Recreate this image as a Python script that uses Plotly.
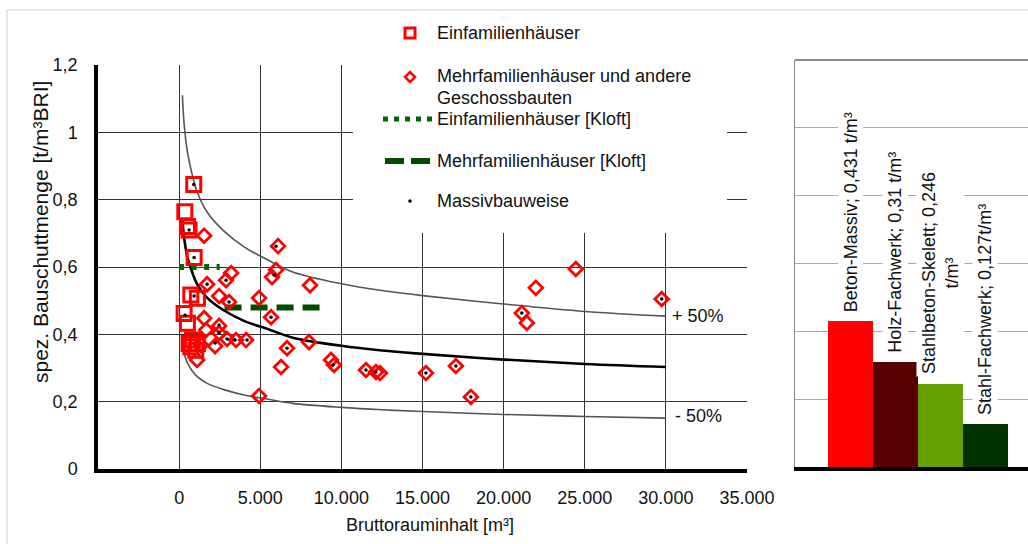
import plotly.graph_objects as go

W, H = 1028, 544

# ---------------- data ----------------
curve_x = [200, 300, 500, 800, 1100, 1700, 2800, 4000, 5500, 7000, 10000, 12500, 15000, 20000, 25000, 30000]
curve_mid = [0.745, 0.69, 0.632, 0.585, 0.55, 0.51, 0.47, 0.44, 0.415, 0.39, 0.366, 0.352, 0.342, 0.325, 0.312, 0.303]
curve_upper = [1.11, 1.03, 0.945, 0.875, 0.825, 0.765, 0.705, 0.66, 0.62, 0.585, 0.55, 0.53, 0.515, 0.49, 0.468, 0.454]
curve_lower = [0.372, 0.345, 0.316, 0.292, 0.275, 0.255, 0.235, 0.22, 0.207, 0.195, 0.183, 0.176, 0.171, 0.162, 0.156, 0.151]

ef_x = [900, 351, 616, 511, 924, 720, 1127, 308, 511, 819, 1127, 720, 1028, 616]
ef_y = [0.845, 0.764, 0.71, 0.72, 0.628, 0.517, 0.507, 0.462, 0.433, 0.383, 0.373, 0.363, 0.353, 0.373]

mf_x = [1540, 1724, 2463, 2894, 3202, 3079, 4926, 5727, 5973, 6097, 5665, 8067, 1540, 1663,
        2463, 2463, 2217, 2956, 3510, 4126, 1108, 4926, 6281, 6650, 8005, 9360, 9545, 11515,
        12131, 12378, 15210, 17057, 17981, 21122, 21430, 21984, 24447, 29743, 1355]
mf_y = [0.693, 0.549, 0.514, 0.561, 0.582, 0.496, 0.508, 0.570, 0.591, 0.662, 0.451, 0.546, 0.448, 0.413,
        0.425, 0.404, 0.365, 0.386, 0.383, 0.383, 0.324, 0.217, 0.303, 0.359, 0.377, 0.324, 0.309, 0.294,
        0.288, 0.285, 0.285, 0.306, 0.214, 0.463, 0.434, 0.538, 0.594, 0.505, 0.368]

massiv_x = [900, 616, 924, 924, 370, 1724, 2894, 3079, 5850, 5973, 5665, 2463, 2463, 2217, 2956,
            3448, 4187, 6650, 9483, 11515, 12131, 15210, 17057, 17981, 21122, 29743]
massiv_y = [0.845, 0.71, 0.628, 0.514, 0.457, 0.549, 0.561, 0.496, 0.576, 0.662, 0.451, 0.428, 0.404,
            0.374, 0.386, 0.383, 0.383, 0.359, 0.309, 0.294, 0.288, 0.285, 0.306, 0.214, 0.463, 0.505]

kloft_ef_x = [0, 2500]
kloft_ef_y = [0.6, 0.6]
kloft_mf_x = [2800, 8700]
kloft_mf_y = [0.48, 0.48]

x_tickvals = [0, 5000, 10000, 15000, 20000, 25000, 30000, 35000]
x_ticktext = ["0", "5.000", "10.000", "15.000", "20.000", "25.000", "30.000", "35.000"]
y_tickvals = [0, 0.2, 0.4, 0.6, 0.8, 1.0, 1.2]
y_ticktext = ["0", "0,2", "0,4", "0,6", "0,8", "1", "1,2"]

bar_cats = ["Beton-Massiv", "Holz-Fachwerk", "Stahlbeton-Skelett", "Stahl-Fachwerk"]
bar_vals = [0.431, 0.31, 0.246, 0.127]
bar_labels = ["Beton-Massiv; 0,431 t/m³", "Holz-Fachwerk; 0,31 t/m³",
              "Stahlbeton-Skelett; 0,246<br>t/m³", "Stahl-Fachwerk; 0,127t/m³"]
bar_colors = ["#ff0000", "#560000", "#66a000", "#003300"]

legend_labels = ["Einfamilienhäuser", "Mehrfamilienhäuser und andere", "Geschossbauten",
                 "Einfamilienhäuser [Kloft]", "Mehrfamilienhäuser [Kloft]", "Massivbauweise"]

# ---------------- layout helpers ----------------
FONT = "Liberation Sans, Arial, sans-serif"
TXT = "#111111"
RED = "#ff0000"
GREEN = "#006600"
DGREEN = "#004d00"

def px(x):
    return x / W

def py(y):
    return 1 - y / H

XL = [-5000, 35000]
YL = [0, 1.2]
X0, X1 = 98, 747
Y0, Y1 = 469, 65

def dx(p):  # pixel -> data x (left plot)
    return XL[0] + (p - X0) / (X1 - X0) * (XL[1] - XL[0])

def dy(p):  # pixel -> data y (left plot)
    return YL[0] + (Y0 - p) / (Y0 - Y1) * (YL[1] - YL[0])

fig = go.Figure()

# curves
fig.add_trace(go.Scatter(x=curve_x, y=curve_upper, mode="lines", line=dict(color="#555555", width=1.6, shape="spline"),
                         showlegend=False, xaxis="x", yaxis="y"))
fig.add_trace(go.Scatter(x=curve_x, y=curve_lower, mode="lines", line=dict(color="#555555", width=1.6, shape="spline"),
                         showlegend=False, xaxis="x", yaxis="y"))
fig.add_trace(go.Scatter(x=curve_x, y=curve_mid, mode="lines", line=dict(color="black", width=2.6, shape="spline"),
                         showlegend=False, xaxis="x", yaxis="y"))

# Kloft lines
fig.add_trace(go.Scatter(x=kloft_ef_x, y=kloft_ef_y, mode="lines", name="Einfamilienhäuser [Kloft]",
                         line=dict(color=GREEN, width=6, dash="5px,7.5px"), showlegend=False))
fig.add_trace(go.Scatter(x=kloft_mf_x, y=kloft_mf_y, mode="lines", name="Mehrfamilienhäuser [Kloft]",
                         line=dict(color=DGREEN, width=6, dash="17px,9px"), showlegend=False))

# markers
fig.add_trace(go.Scatter(x=mf_x, y=mf_y, mode="markers", name="Mehrfamilienhäuser und andere Geschossbauten",
                         marker=dict(symbol="diamond-open", size=10.5, color=RED, line=dict(color=RED, width=2.8)),
                         showlegend=False))
fig.add_trace(go.Scatter(x=ef_x, y=ef_y, mode="markers", name="Einfamilienhäuser",
                         marker=dict(symbol="square-open", size=14, color=RED, line=dict(color=RED, width=3)),
                         showlegend=False))
fig.add_trace(go.Scatter(x=massiv_x, y=massiv_y, mode="markers", name="Massivbauweise",
                         marker=dict(symbol="circle", size=3.5, color="black"), showlegend=False))

# bars
fig.add_trace(go.Bar(x=bar_cats, y=bar_vals, marker=dict(color=bar_colors, line=dict(width=0)),
                     width=1, xaxis="x2", yaxis="y2", showlegend=False))

shapes = [
    # outer light frame
    dict(type="line", xref="paper", yref="paper", x0=px(7), y0=py(10), x1=1.0, y1=py(10),
         line=dict(color="#d0d0d0", width=1), layer="below"),
    dict(type="line", xref="paper", yref="paper", x0=px(7), y0=py(10), x1=px(7), y1=0.0,
         line=dict(color="#d0d0d0", width=1), layer="below"),
    # white legend box covering grid
    dict(type="rect", xref="x", yref="y", x0=dx(353), x1=dx(727), y0=dy(233), y1=dy(62),
         fillcolor="white", line=dict(width=0), layer="between"),
    # right panel top border
    dict(type="line", xref="paper", yref="paper", x0=px(795), x1=1.0, y0=py(60), y1=py(60),
         line=dict(color="#666666", width=1.5)),
    # legend symbols
    dict(type="rect", xref="paper", yref="paper", x0=px(405), x1=px(415), y0=py(38), y1=py(28),
         line=dict(color=RED, width=3), fillcolor="white"),
    dict(type="path", xref="paper", yref="paper",
         path=f"M {px(410)},{py(72)} L {px(415)},{py(77)} L {px(410)},{py(82)} L {px(405)},{py(77)} Z",
         line=dict(color=RED, width=2.5), fillcolor="white"),
    dict(type="line", xref="paper", yref="paper", x0=px(383), x1=px(432), y0=py(119), y1=py(119),
         line=dict(color=GREEN, width=5, dash="5px,6px")),
    dict(type="line", xref="paper", yref="paper", x0=px(385), x1=px(431), y0=py(161), y1=py(161),
         line=dict(color=DGREEN, width=6, dash="19px,7px")),
    dict(type="circle", xref="paper", yref="paper", x0=px(408.5), x1=px(411.5), y0=py(202.5), y1=py(199.5),
         fillcolor="black", line=dict(color="black", width=0.5)),
]

annotations = []
legend_y = [33, 76, 98, 119, 161, 201]
for lab, yy in zip(legend_labels, legend_y):
    annotations.append(dict(text=lab, xref="paper", yref="paper", x=px(435), y=py(yy),
                            xanchor="left", yanchor="middle", showarrow=False,
                            font=dict(family=FONT, size=18, color=TXT)))

# +/- 50% labels
annotations.append(dict(text="+ 50%", xref="x", yref="y", x=curve_x[-1], y=curve_upper[-1], xanchor="left",
                        yanchor="middle", xshift=4, showarrow=False, font=dict(family=FONT, size=18, color=TXT)))
annotations.append(dict(text="- 50%", xref="x", yref="y", x=curve_x[-1], y=curve_lower[-1], xanchor="left",
                        yanchor="middle", xshift=7, yshift=2, showarrow=False, font=dict(family=FONT, size=18, color=TXT)))

# axis titles
annotations.append(dict(text="spez. Bauschuttmenge [t/m³BRI]", xref="paper", yref="paper", x=px(40), y=py(232),
                        textangle=-90, xanchor="center", yanchor="middle", showarrow=False,
                        font=dict(family=FONT, size=21, color=TXT)))
annotations.append(dict(text="Bruttorauminhalt [m³]", xref="paper", yref="paper", x=px(430), y=py(525),
                        xanchor="center", yanchor="middle", showarrow=False,
                        font=dict(family=FONT, size=18, color=TXT)))

# bar labels
for cat, v, lab in zip(bar_cats, bar_vals, bar_labels):
    annotations.append(dict(text=lab, xref="x2", yref="y2", x=cat, y=v, textangle=-90,
                            xanchor="center", yanchor="bottom", yshift=6, showarrow=False,
                            bgcolor="white", borderpad=2,
                            font=dict(family=FONT, size=18, color=TXT)))

fig.update_layout(
    width=W, height=H,
    margin=dict(l=0, r=0, t=0, b=0, pad=0, autoexpand=False),
    paper_bgcolor="white", plot_bgcolor="white",
    font=dict(family=FONT, size=18, color=TXT),
    showlegend=False,
    bargap=0,
    xaxis=dict(domain=[px(X0), px(X1)], range=XL, tickvals=x_tickvals, ticktext=x_ticktext,
               showgrid=True, gridcolor="#333333", gridwidth=1.2, zeroline=False, automargin=False,
               showline=True, linecolor="black", linewidth=3.5, ticks="", ticklabelstandoff=10,
               tickfont=dict(family=FONT, size=18, color=TXT)),
    yaxis=dict(domain=[py(Y0), py(Y1)], range=YL, tickvals=y_tickvals, ticktext=y_ticktext,
               showgrid=True, gridcolor="#333333", gridwidth=1.2, zeroline=False, automargin=False,
               showline=True, linecolor="black", linewidth=3.5, ticks="", ticklabelstandoff=13,
               tickfont=dict(family=FONT, size=18, color=TXT)),
    xaxis2=dict(domain=[px(795), 1.0], range=[-1.233, 3.944], type="category", anchor="y2",
                showgrid=False, zeroline=False, showticklabels=False, ticks="", automargin=False,
                showline=True, linecolor="black", linewidth=3.5),
    yaxis2=dict(domain=[py(467), py(60)], range=[0, 1.2], dtick=0.2, anchor="x2", automargin=False,
                showgrid=True, gridcolor="#a8a8a8", gridwidth=1.2, zeroline=False,
                showticklabels=False, ticks="", showline=True, linecolor="#8a8a8a", linewidth=1.2),
    shapes=shapes,
    annotations=annotations,
)

fig.write_html("out.html")
